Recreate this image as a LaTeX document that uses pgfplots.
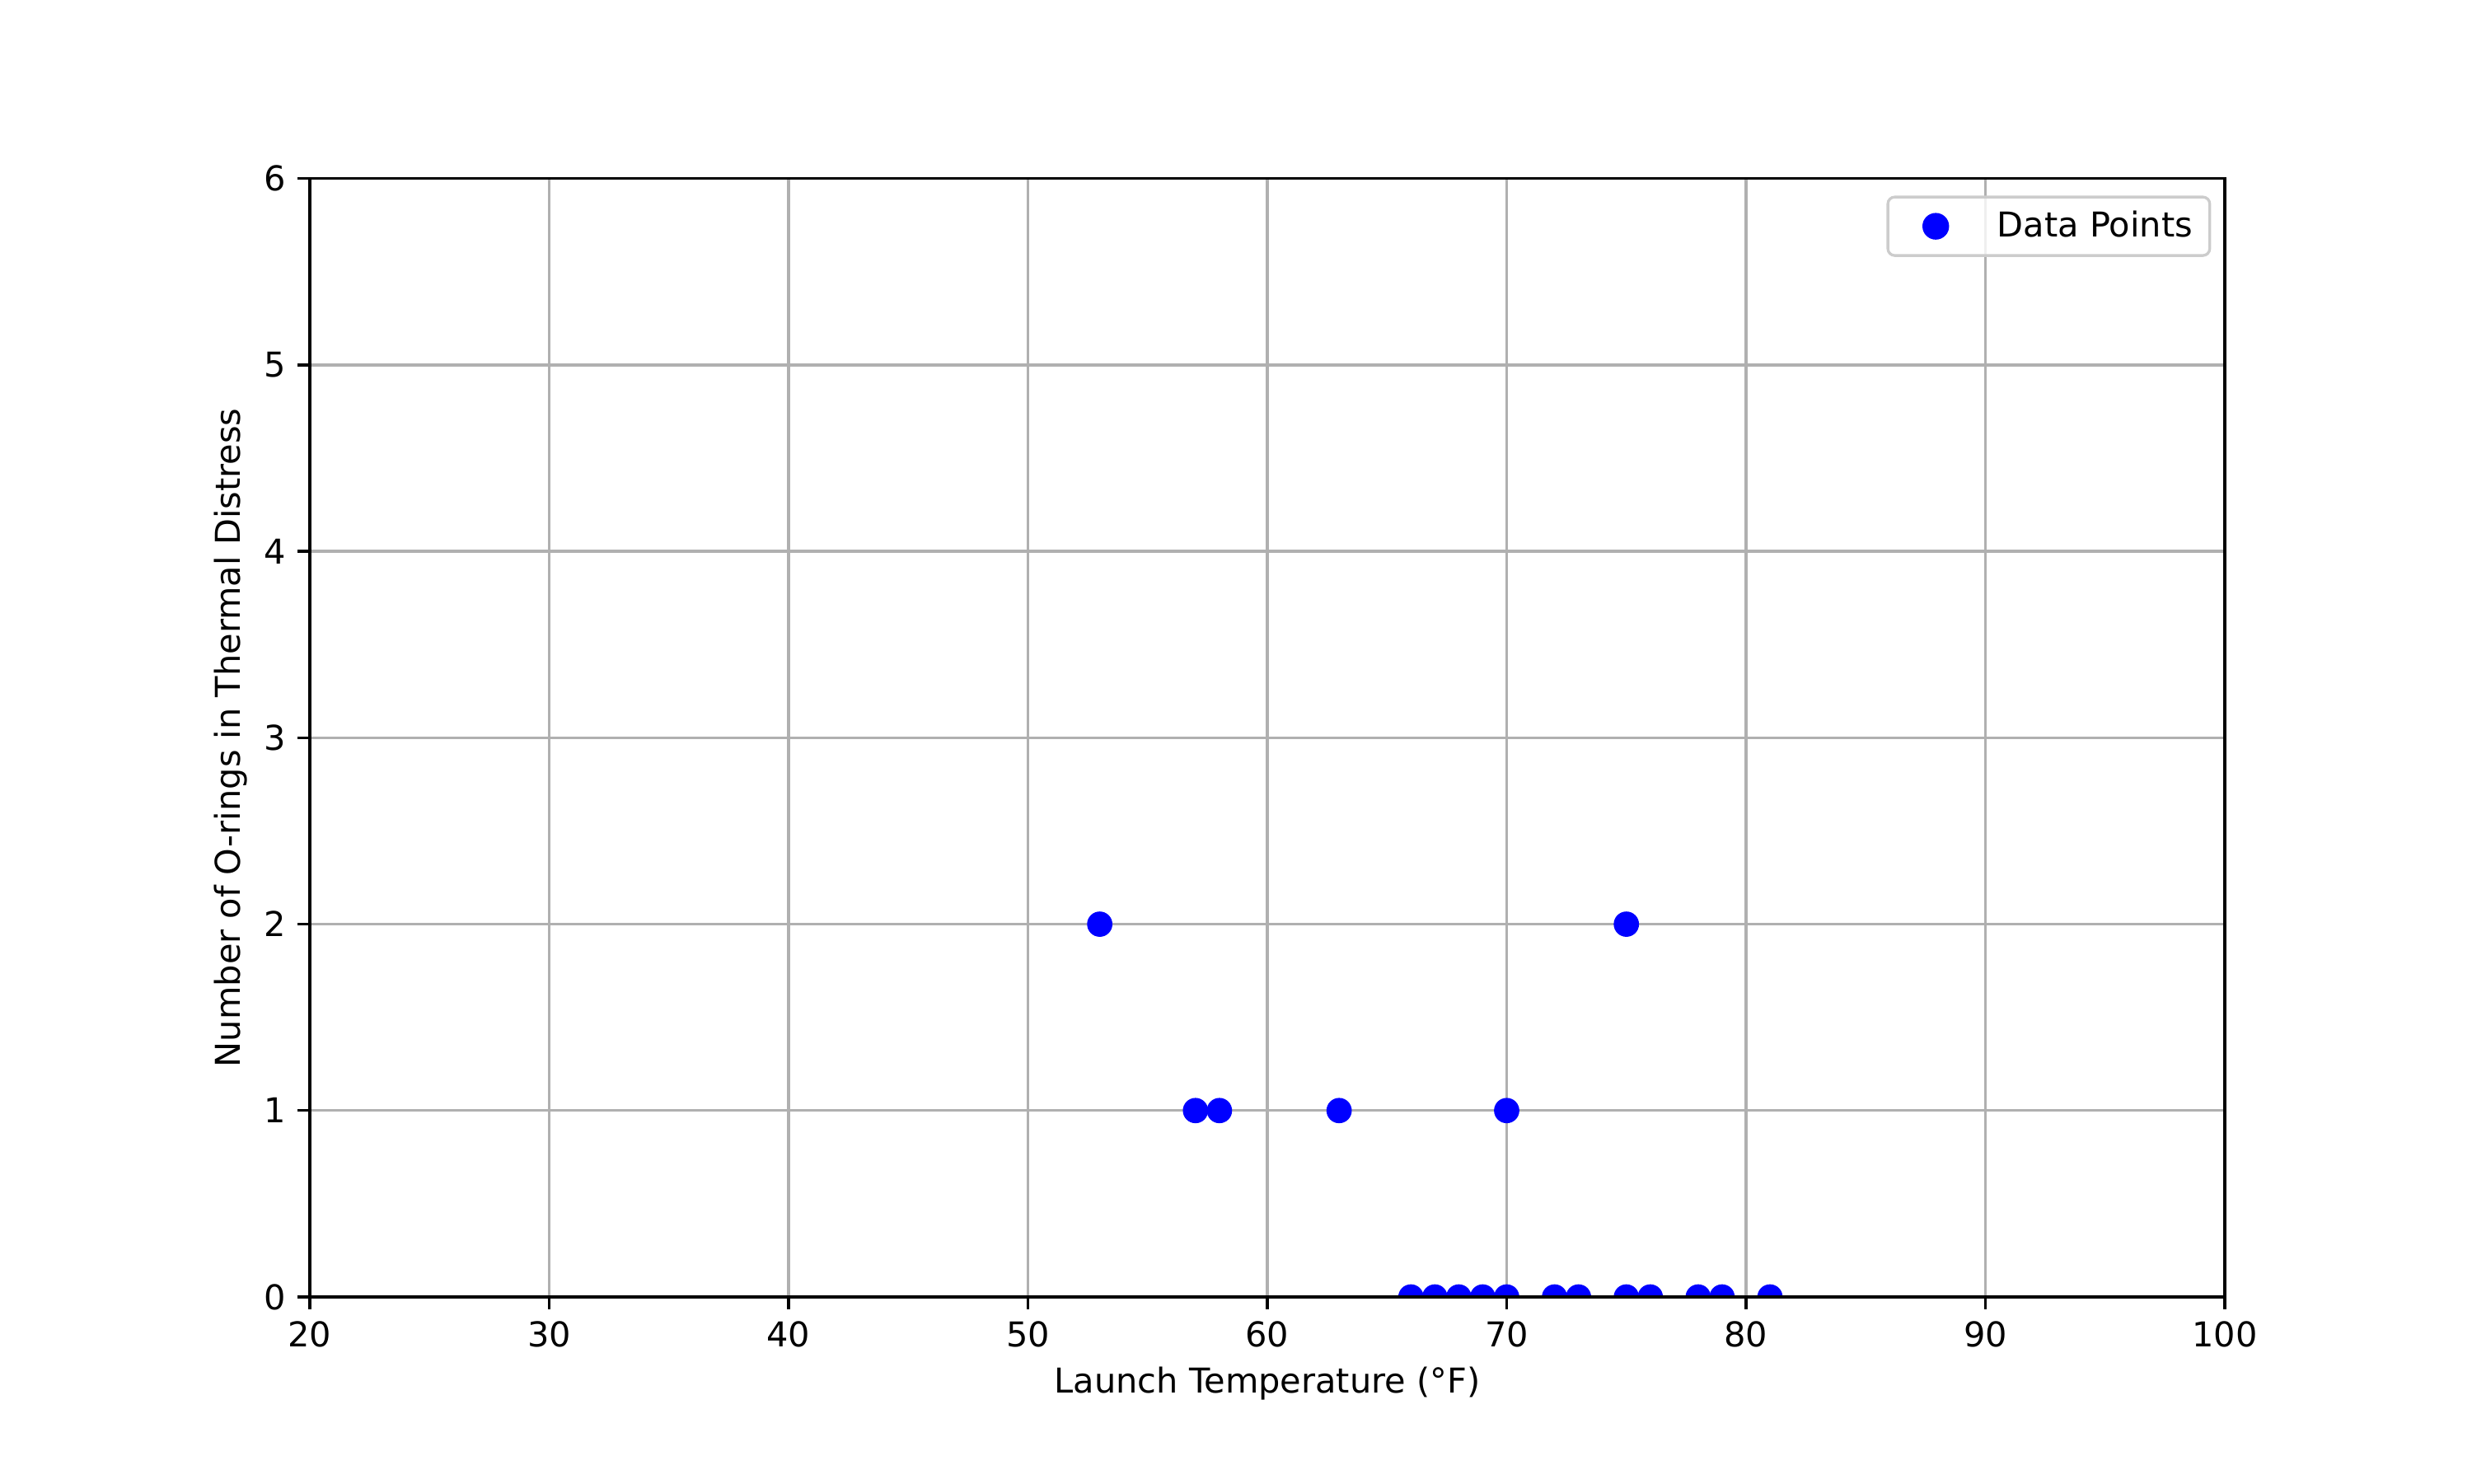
\documentclass[border=0pt]{standalone}
\usepackage{fontspec}
\setmainfont{DejaVu Sans}
\usepackage{pgfplots}
\pgfplotsset{compat=1.18}
\definecolor{gridgray}{HTML}{B0B0B0}
\definecolor{legedge}{HTML}{CCCCCC}
\begin{document}
\begin{tikzpicture}
\path (-90.58pt,-54.44pt) rectangle (632.12pt,379.18pt);
\begin{axis}[
  at={(0pt,0pt)}, anchor=south west,
  scale only axis,
  width=559.85pt, height=326.98pt,
  xmin=20, xmax=100, ymin=0, ymax=6,
  xtick={20,30,...,100}, ytick={0,1,...,6},
  /pgf/number format/assume math mode=true,
  font=\fontsize{10}{12}\selectfont,
  tick label style={font=\fontsize{10}{12}\selectfont},
  label style={font=\fontsize{10}{12}\selectfont},
  tick align=outside, tick pos=left,
  major tick length=3.5pt,
  every tick/.style={black, line width=0.8pt},
  axis line style={line width=0.8pt},
  grid=major,
  major grid style={gridgray, line width=0.8pt},
  clip marker paths=true,
  xlabel={Launch Temperature (°F)},
  ylabel={Number of O-rings in Thermal Distress},
  xlabel style={yshift=1pt},
  ylabel style={yshift=-2pt},
  legend style={at={(rel axis cs:1,1)}, xshift=-4pt, yshift=-5pt, anchor=north east,
    draw=legedge, line width=0.8pt, rounded corners=2pt, fill=white, fill opacity=0.8, text opacity=1,
    font=\fontsize{10}{12}\selectfont, inner xsep=3pt, inner ysep=2pt,
    /tikz/every odd column/.append style={column sep=5pt}},
  legend image code/.code={\path[draw=none,fill=none] (0pt,0pt) -- (22pt,0pt);\draw[only marks,opacity=1,fill opacity=1,draw opacity=1] plot coordinates {(11pt,0pt)};},
  legend cell align=left,
  after end axis/.code={\draw[line width=0.8pt] (rel axis cs:0,0) rectangle (rel axis cs:1,1);},
]
\addplot[only marks, mark=*, mark size=3.5pt, color=blue, draw=blue, fill=blue] coordinates {
(66,0) (67,0) (68,0) (69,0) (70,0) (72,0) (73,0) (75,0) (76,0) (78,0) (79,0) (81,0)
(57,1) (58,1) (63,1) (70,1)
(53,2) (75,2)
};
\addlegendentry{Data Points}
\end{axis}
\end{tikzpicture}
\end{document}
